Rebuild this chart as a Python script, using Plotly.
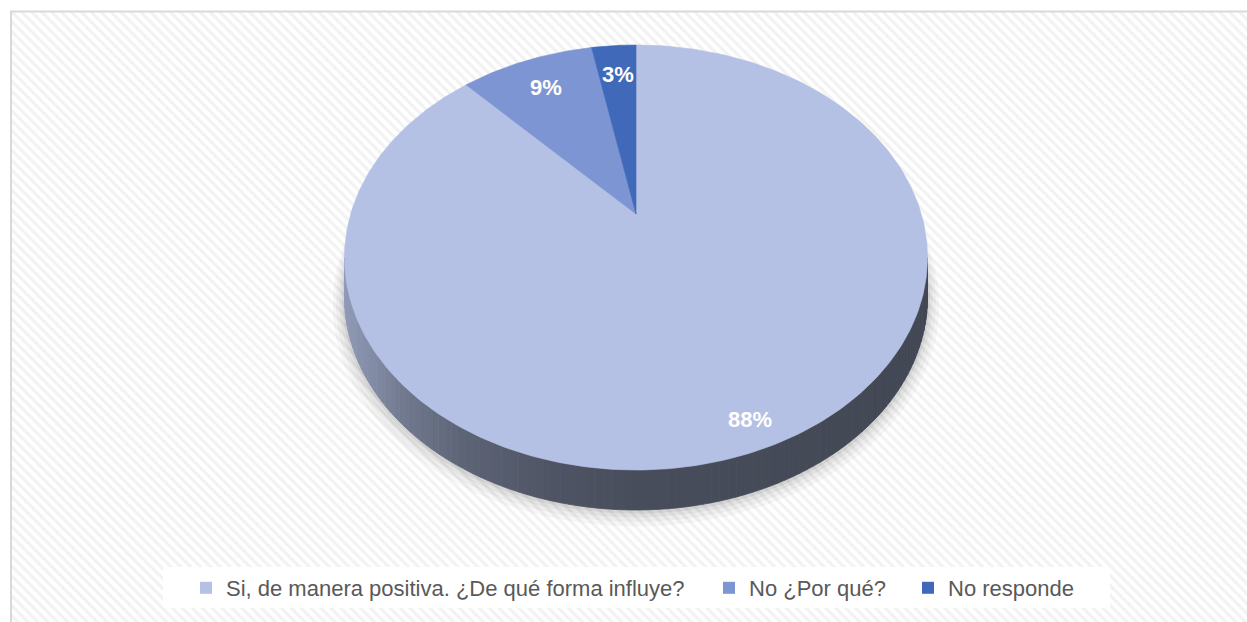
import numpy as np
import plotly.graph_objects as go

# ---- data ----
labels = ["Si, de manera positiva. ¿De qué forma influye?", "No ¿Por qué?", "No responde"]
values = [88, 9, 3]
value_text = ["88%", "9%", "3%"]

# ---- style / geometry ----
W, H = 1247, 622
slice_colors = ["#B4C1E4", "#7E95D3", "#4169B9"]
CX, CY = 636.0, 214.0            # projected centre of the top face (px)
AX, BY, K = 285.3, 203.6, 0.2047  # horizontal scale, vertical scale, perspective
DEPTH = 40.0                      # thickness of the disk (px)
label_radius = [0.9, 0.8, 0.8]
legend_x_px = [186, 709, 908]
LEGEND_Y_PX = 588
FONT = "Liberation Sans"


def project(u, v, dy=0.0):
    """Perspective projection of a point on the unit disk to pixel coords."""
    w = 1.0 + K * v
    return CX + AX * u / w, CY - BY * v / w + dy


def hex_rgb(h):
    h = h.lstrip("#")
    return np.array([int(h[i:i + 2], 16) for i in (0, 2, 4)], dtype=float)


def rgb_str(c):
    c = np.clip(c, 0, 255).round().astype(int)
    return f"rgb({c[0]},{c[1]},{c[2]})"


# slice angles, clockwise from 12 o'clock
total = float(sum(values))
bounds = np.concatenate([[0.0], np.cumsum(values) / total * 2 * np.pi])

fig = go.Figure()

# patterned chart background
fig.add_trace(go.Scatter(
    x=[10, W, W, 10, 10], y=[11, 11, H, H, 11], mode="lines", fill="toself",
    line=dict(width=0), fillcolor="white",
    fillpattern=dict(shape="\\", fgcolor="#e6e6e6", bgcolor="white", size=7, solidity=0.45),
    hoverinfo="skip", showlegend=False))

# soft shadow under the disk
ring = np.linspace(0, 2 * np.pi, 240)
for d, a in [(11, 0.03), (8, 0.035), (5, 0.045), (2.5, 0.06)]:
    s = 1.0 + d / 285.0
    xs, ys = project(s * np.sin(ring), s * np.cos(ring), DEPTH + d * 0.35)
    fig.add_trace(go.Scatter(x=xs, y=ys, mode="lines", fill="toself",
                             line=dict(width=0), fillcolor=f"rgba(0,0,0,{a})",
                             hoverinfo="skip", showlegend=False))

# visible front wall of the cylinder, shaded by horizontal position
th_right = np.arccos(-K)
th_left = 2 * np.pi - th_right
x_min = CX - AX / np.sqrt(1 - K ** 2)
x_max = CX + AX / np.sqrt(1 - K ** 2)
shade_t = [0.0, 0.05, 0.1, 0.2, 0.35, 0.5, 1.0]
shade_f = [0.80, 0.72, 0.63, 0.52, 0.44, 0.40, 0.37]

for i in range(len(values)):
    a0 = max(bounds[i], th_right)
    a1 = min(bounds[i + 1], th_left)
    if a1 <= a0:
        continue
    base = hex_rgb(slice_colors[i])
    steps = np.linspace(a0, a1, 110)
    for j in range(len(steps) - 1):
        t0, t1 = steps[j], steps[j + 1]
        x0, y0 = project(np.sin(t0), np.cos(t0))
        x1, y1 = project(np.sin(t1), np.cos(t1))
        xm = 0.5 * (x0 + x1)
        f = np.interp((xm - x_min) / (x_max - x_min), shade_t, shade_f)
        col = rgb_str(base * f)
        fig.add_trace(go.Scatter(
            x=[x0, x1, x1, x0, x0], y=[y0, y1, y1 + DEPTH, y0 + DEPTH, y0],
            mode="lines", fill="toself", fillcolor=col, line=dict(width=0.8, color=col),
            hoverinfo="skip", showlegend=False))

# top face slices
for i in range(len(values)):
    th = np.linspace(bounds[i], bounds[i + 1], max(8, int(values[i] * 4)))
    xs, ys = project(np.sin(th), np.cos(th))
    xs = np.concatenate([[CX], xs, [CX]])
    ys = np.concatenate([[CY], ys, [CY]])
    fig.add_trace(go.Scatter(x=xs, y=ys, mode="lines", fill="toself",
                             fillcolor=slice_colors[i],
                             line=dict(width=0.6, color=slice_colors[i]),
                             name=labels[i], hoverinfo="skip", showlegend=False))

# value labels
annotations = []
for i in range(len(values)):
    mid = 0.5 * (bounds[i] + bounds[i + 1])
    r = label_radius[i]
    lx, ly = project(r * np.sin(mid), r * np.cos(mid))
    annotations.append(dict(x=lx, y=ly, xref="x", yref="y", text=f"<b>{value_text[i]}</b>",
                            showarrow=False, font=dict(family=FONT, size=22, color="white"),
                            xanchor="center", yanchor="middle"))

# legend entries, one legend per item
legend_ids = ["legend", "legend2", "legend3"]
for i in range(len(values)):
    fig.add_trace(go.Scatter(x=[None], y=[None], mode="markers",
                             marker=dict(symbol="square", size=12, color=slice_colors[i]),
                             name=labels[i], legend=legend_ids[i], showlegend=True))

legend_style = dict(orientation="h", xanchor="left", yanchor="middle",
                    bgcolor="rgba(0,0,0,0)", borderwidth=0, itemsizing="trace",
                    font=dict(family=FONT, size=22, color="#595959"))
legends = {}
for i, lid in enumerate(legend_ids):
    legends[lid] = dict(legend_style, x=legend_x_px[i] / W, y=1 - LEGEND_Y_PX / H)

shapes = [
    # legend box
    dict(type="rect", xref="x", yref="y", x0=163, x1=1110, y0=567, y1=608,
         fillcolor="white", line=dict(width=0), layer="above"),
    # chart border (left and top)
    dict(type="line", xref="x", yref="y", x0=11, x1=11, y0=11, y1=H,
         line=dict(color="#d9d9d9", width=2), layer="above"),
    dict(type="line", xref="x", yref="y", x0=10, x1=W, y0=11.5, y1=11.5,
         line=dict(color="#d9d9d9", width=2), layer="above"),
]

fig.update_layout(
    width=W, height=H,
    margin=dict(l=0, r=0, t=0, b=0),
    paper_bgcolor="white", plot_bgcolor="white",
    xaxis=dict(range=[0, W], visible=False, fixedrange=True),
    yaxis=dict(range=[H, 0], visible=False, fixedrange=True),
    annotations=annotations, shapes=shapes,
    **legends,
)

fig.write_html("out.html", config={"displayModeBar": False})
